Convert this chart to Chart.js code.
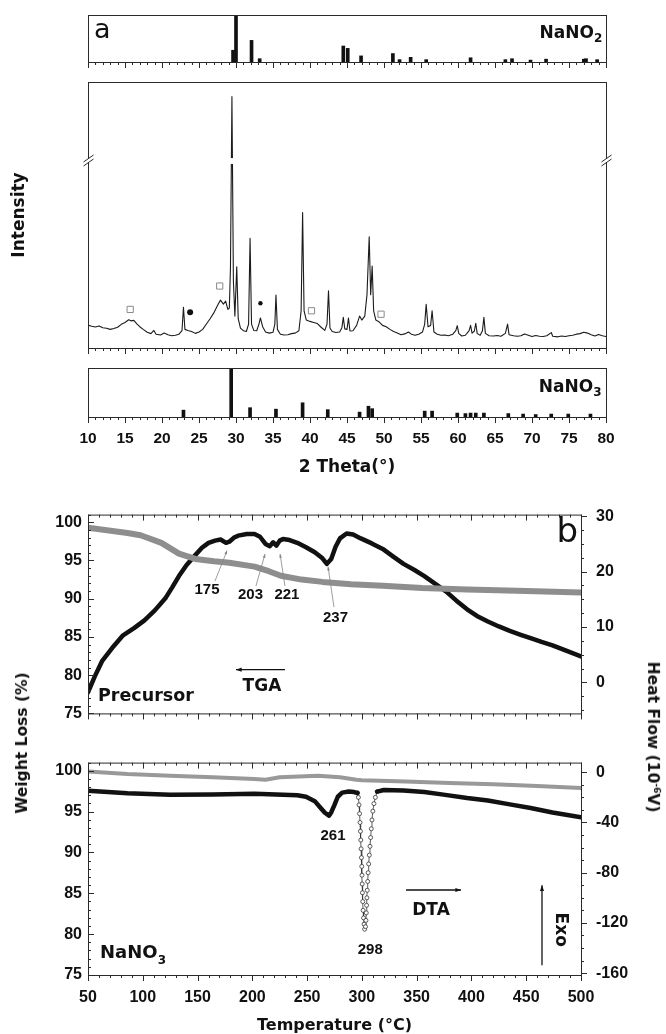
<!DOCTYPE html>
<html lang="en">
<head>
<meta charset="utf-8">
<title>XRD and TGA/DTA</title>
<script src="https://cdn.jsdelivr.net/npm/chart.js@4.4.1/dist/chart.umd.min.js"></script>
<style>
  body { margin: 0; background: #fff; }
  #figure { position: relative; width: 666px; height: 1034px; overflow: hidden; background: #fff; font-family: "DejaVu Sans", sans-serif; color: #111; }
  #figure canvas { position: absolute; left: 0; }
  .title-y { position: absolute; white-space: nowrap; font-weight: bold; font-size: 15.5px; transform: translate(-50%, -50%) rotate(-90deg); }
  .title-y.right { transform: translate(-50%, -50%) rotate(90deg); }
  .title-y sup { font-size: 9px; }
</style>
</head>
<body>
<div id="figure">
  <canvas id="nitrite" width="666" height="70" style="top:0"></canvas>
  <canvas id="pattern" width="666" height="290" style="top:70px"></canvas>
  <canvas id="nitrate" width="666" height="120" style="top:360px"></canvas>
  <canvas id="precursor" width="666" height="248" style="top:490px"></canvas>
  <canvas id="thermal" width="666" height="296" style="top:738px"></canvas>
  <div class="title-y" style="left:22px; top:743px">Weight Loss (%)</div>
  <div class="title-y right" style="left:653px; top:737px">Heat Flow (10<sup>-6</sup>V)</div>
</div>
<script>
const THETA_TICKS = [10, 15, 20, 25, 30, 35, 40, 45, 50, 55, 60, 65, 70, 75, 80];
const TEMP_TICKS = [50, 100, 150, 200, 250, 300, 350, 400, 450, 500];
const WEIGHT_TICKS = [75, 80, 85, 90, 95, 100];
const PRECURSOR_HEAT_TICKS = [0, 10, 20, 30];
const NITRATE_HEAT_TICKS = [-160, -120, -80, -40, 0];

// reference cards, relative intensity (%)
const NANO2_THETA = [29.6, 30.0, 32.1, 33.2, 44.5, 45.1, 46.9, 51.2, 52.1, 53.6, 55.7, 61.7, 66.4, 67.3, 69.8, 71.9, 77.0, 77.3, 78.8];
const NANO2_INT = [25, 100, 46, 7, 34, 29, 13, 18, 5, 10, 5, 9, 5, 7, 4, 6, 6, 7, 5];
const NANO3_THETA = [22.9, 29.35, 31.9, 35.4, 39.0, 42.4, 46.7, 47.9, 48.4, 55.5, 56.5, 59.9, 61.0, 61.7, 62.4, 63.5, 66.8, 68.8, 70.5, 72.6, 74.9, 77.9];
const NANO3_INT = [14, 100, 19, 16, 29, 15, 10, 22, 17, 12, 12, 8, 7, 8, 8, 8, 7, 6, 5, 6, 6, 6];

// measured pattern (intensity in % of the plotted box, axis broken near the top)
const XRD_THETA = [
  10.0, 10.5, 11.0, 11.5, 12.0, 12.5, 13.0, 13.5, 14.0, 14.5,
  15.0, 15.5, 15.8, 16.2, 16.6, 17.0, 17.5, 18.0, 18.5, 18.9,
  19.2, 19.8, 20.3, 20.8, 21.3, 21.8, 22.3, 22.7, 22.9, 23.1,
  23.5, 24.0, 24.5, 25.0, 25.5, 26.0, 26.5, 27.0, 27.5, 27.9,
  28.3, 28.6, 28.9, 29.1, 29.25, 29.45, 29.65, 29.85, 30.1, 30.3,
  30.6, 31.0, 31.4, 31.7, 31.9, 32.1, 32.4, 32.8, 33.1, 33.3,
  33.6, 34.0, 34.5, 35.0, 35.25, 35.4, 35.6, 36.0, 36.5, 37.0,
  37.5, 38.0, 38.5, 38.8, 39.0, 39.2, 39.5, 40.0, 40.5, 41.0,
  41.5, 42.0, 42.3, 42.5, 42.7, 43.0, 43.5, 44.0, 44.3, 44.5,
  44.7, 45.0, 45.2, 45.4, 45.8, 46.3, 46.7, 47.0, 47.4, 47.7,
  48.0, 48.2, 48.4, 48.6, 48.9, 49.3, 49.8, 50.3, 50.8, 51.3,
  51.8, 52.3, 52.8, 53.3, 53.7, 54.2, 54.7, 55.2, 55.5, 55.7,
  55.95, 56.3, 56.5, 56.75, 57.2, 57.7, 58.2, 58.7, 59.3, 59.7,
  59.9, 60.1, 60.5, 61.0, 61.5, 61.7, 61.9, 62.2, 62.4, 62.6,
  63.0, 63.3, 63.5, 63.7, 64.2, 64.8, 65.3, 65.8, 66.4, 66.7,
  66.9, 67.5, 68.0, 68.5, 69.0, 69.5, 70.0, 70.5, 71.0, 71.5,
  72.0, 72.6, 72.8, 73.5, 74.0, 74.5, 75.0, 75.5, 76.0, 76.5,
  77.0, 77.5, 78.0, 78.5, 79.0, 79.5, 80.0
];
const XRD_INT = [
  8.6, 8.2, 7.9, 8.3, 7.6, 7.4, 7.0, 7.3, 7.8, 8.9,
  9.6, 10.6, 10.2, 10.4, 9.1, 8.0, 6.9, 5.9, 5.4, 6.6,
  5.2, 4.9, 5.6, 5.0, 4.6, 4.8, 5.2, 6.5, 15.3, 7.0,
  6.6, 6.2, 5.5, 6.0, 7.0, 9.0, 11.0, 13.2, 16.0, 18.0,
  16.5, 17.6, 14.5, 15.0, 30, 94.5, 25, 12, 30.5, 11,
  7.5, 6.5, 6.2, 9, 41.2, 9, 6.6, 6.5, 9.0, 11.3,
  8.0, 6.0, 5.6, 5.9, 9, 19.9, 7, 5.2, 4.9, 5.0,
  5.4, 5.6, 6.5, 14, 50.9, 14, 10.5, 10.0, 9.6, 9.2,
  7.8, 6.6, 9, 21.5, 7.5, 6.2, 5.8, 6.0, 7.5, 11.5,
  7.2, 7.0, 11.3, 6.4, 6.5, 8.5, 12.0, 10.5, 12, 20,
  41.8, 20, 30.8, 14, 10.5, 9.9, 8.5, 8.0, 7.0, 6.2,
  5.6, 5.0, 5.3, 6.0, 5.2, 4.8, 5.2, 6.0, 9, 16.4,
  8, 8.5, 14.0, 6, 5.2, 4.8, 4.9, 4.6, 5.2, 6.5,
  8.4, 5.5, 4.5, 4.8, 6.5, 8.5, 5.6, 6.3, 9.3, 5.4,
  4.8, 6.5, 11.5, 5.5, 4.6, 4.5, 4.7, 4.4, 5.5, 9.0,
  5.0, 4.6, 4.4, 4.6, 5.3, 4.8, 4.3, 4.7, 4.4, 4.3,
  4.6, 5.8, 4.4, 4.2, 4.5, 4.3, 4.6, 4.8, 5.2, 5.4,
  5.9, 5.6, 5.0, 4.5, 5.1, 4.6, 4.3
];
const AXIS_BREAK = [69.2, 71.4];

// phase markers above the pattern
const SQUARE_THETA = [15.7, 27.8, 40.2, 49.6];
const SQUARE_INT = [14.5, 23.3, 14.0, 12.7];
const DOT_THETA = [23.8, 33.3];
const DOT_INT = [13.4, 16.8];

// precursor: TGA (weight %) and DTA (heat flow)
const PRE_TGA_TEMP = [50, 86, 98, 117, 133, 148, 165, 179, 202, 215, 226, 245, 264, 290, 319, 355, 396, 450, 500];
const PRE_TGA_WEIGHT = [99.3, 98.6, 98.3, 97.3, 95.9, 95.2, 94.9, 94.7, 94.2, 93.6, 93.0, 92.5, 92.2, 91.9, 91.7, 91.4, 91.2, 91.0, 90.8];
const PRE_DTA_TEMP = [
  50, 56, 63, 72, 82, 92, 101.5, 111, 121, 127,
  133, 140, 148, 154, 160, 166, 171, 176, 179, 183,
  187, 195, 202, 207, 212, 216, 219, 222, 225, 228,
  234, 241, 249, 257, 264, 268, 272, 276, 280, 286,
  292, 299, 309, 319, 328, 338, 348, 357, 367, 377,
  386, 396, 405, 415, 425, 435, 445, 454, 464, 474,
  487, 500
];
const PRE_DTA_HEAT = [
  -1.8, 1.0, 3.9, 6.2, 8.5, 9.8, 11.2, 13.0, 15.3, 17.2,
  19.2, 21.2, 23.0, 24.3, 25.2, 25.6, 25.8, 25.2, 25.4, 26.1,
  26.5, 26.8, 26.8, 26.3, 25.0, 24.6, 25.3, 24.7, 25.6, 25.9,
  25.7, 25.2, 24.4, 23.5, 22.4, 21.4, 22.3, 24.5, 26.0, 26.9,
  26.7, 26.0, 25.1, 24.1, 22.8, 21.4, 20.3, 19.2, 17.8, 16.4,
  14.8, 13.2, 12.0, 11.0, 10.1, 9.3, 8.6, 8.0, 7.3, 6.7,
  5.7, 4.7
];
const PRE_PEAKS = ['175', '203', '221', '237'];

// NaNO3: TGA and DTA, the melting dip is drawn with open circles
const NIT_TGA_TEMP = [50, 86, 125, 164, 202, 212, 225, 260, 280, 295, 300, 340, 380, 420, 460, 500];
const NIT_TGA_WEIGHT = [99.9, 99.6, 99.4, 99.2, 99.0, 98.9, 99.2, 99.4, 99.2, 98.9, 98.85, 98.7, 98.5, 98.35, 98.15, 97.9];
const NIT_DTA_TEMP = [50, 86, 125, 164, 202, 241, 249, 257, 262, 266, 270, 272, 275, 278, 282, 288, 293, 296];
const NIT_DTA_HEAT = [-14.8, -16.7, -18, -17.8, -17.1, -18.3, -19.5, -23, -28, -32, -34.6, -32, -26, -19.5, -16.2, -15.4, -15.8, -16.5];
const NIT_DTA_TEMP_AFTER = [314, 320, 338, 357, 376, 396, 415, 435, 454, 474, 500];
const NIT_DTA_HEAT_AFTER = [-15.4, -14.1, -14.5, -15.8, -18, -20.5, -22.5, -25.6, -28.5, -32, -35.9];
const NIT_DIP_TEMP = [
  296, 296.8, 297.4, 297.9, 298.3, 298.7, 299, 299.3, 299.6, 299.9,
  300.1, 300.3, 300.5, 300.8, 301.1, 301.5, 302, 302.5, 303.3, 303.7,
  304, 304.3, 304.6, 304.9, 305.3, 305.7, 306.2, 306.8, 307.4, 308,
  308.6, 309.2, 310, 311, 312.3, 314
];
const NIT_DIP_HEAT = [
  -16.5, -20, -26, -33, -40, -47, -54, -61, -68, -75,
  -82, -89, -96, -103, -110, -116, -121, -125, -123, -118,
  -112, -106, -100, -94, -87, -80, -73, -66, -59, -52,
  -45, -38, -31, -25, -20, -15.4
];
const NIT_PEAKS = ['261', '298'];

const FONT = '"DejaVu Sans", sans-serif';
const DIGITS = '"Liberation Sans", Arial, sans-serif';
Chart.defaults.font.family = FONT;
Chart.defaults.color = "#111";

function pontos(xs, ys) {
  return xs.map((x, i) => ({ x, y: ys[i] }));
}

function drawTicks(chart, t) {
  const { ctx, chartArea: area } = chart;
  const scale = chart.scales[t.scale];
  const count = Math.round((scale.max - t.first) / t.step);

  ctx.beginPath();
  for (let i = 0; i <= count; i++) {
    const value = t.first + i * t.step;
    if (value < scale.min - 1e-6 || value > scale.max + 1e-6) continue;

    const ratio = value / t.major;
    const len = Math.abs(ratio - Math.round(ratio)) < 1e-6 ? t.majorLen : t.len;
    const p = Math.round(scale.getPixelForValue(value)) + 0.5;

    if (t.edge === "top" || t.edge === "bottom") {
      const y = t.edge === "top" ? area.top : area.bottom;
      ctx.moveTo(p, y);
      ctx.lineTo(p, y + len * t.dir);
    } else {
      const x = t.edge === "left" ? area.left : area.right;
      ctx.moveTo(x, p);
      ctx.lineTo(x + len * t.dir, p);
    }
  }
  ctx.stroke();
}

function drawText(chart, item) {
  const { ctx } = chart;
  const x = chart.scales.x.getPixelForValue(item.x);
  const y = chart.scales[item.scale || "y"].getPixelForValue(item.y);

  ctx.save();
  ctx.fillStyle = "#111";
  ctx.font = item.font;

  if (item.rotate) {
    ctx.translate(x, y);
    ctx.rotate(item.rotate);
    ctx.textAlign = "center";
    ctx.textBaseline = "middle";
    ctx.fillText(item.text, 0, 0);
    ctx.restore();
    return;
  }

  const mainWidth = ctx.measureText(item.text).width;
  let subWidth = 0;
  if (item.sub) {
    ctx.font = item.subFont;
    subWidth = ctx.measureText(item.sub).width;
  }

  const total = mainWidth + subWidth;
  const left = item.align === "right" ? x - total : item.align === "center" ? x - total / 2 : x;

  ctx.textAlign = "left";
  ctx.textBaseline = "alphabetic";
  ctx.font = item.font;
  ctx.fillText(item.text, left, y);

  if (item.sub) {
    ctx.font = item.subFont;
    ctx.fillText(item.sub, left + mainWidth, y + item.subDrop);
  }
  ctx.restore();
}

function drawArrow(chart, a) {
  const { ctx } = chart;
  const sx = chart.scales.x;
  const sy = chart.scales[a.scale || "y"];
  const x1 = sx.getPixelForValue(a.x1), y1 = sy.getPixelForValue(a.y1);
  const x2 = sx.getPixelForValue(a.x2), y2 = sy.getPixelForValue(a.y2);
  const ang = Math.atan2(y2 - y1, x2 - x1);

  ctx.save();
  ctx.strokeStyle = a.color;
  ctx.fillStyle = a.color;
  ctx.lineWidth = a.width;
  ctx.beginPath();
  ctx.moveTo(x1, y1);
  ctx.lineTo(x2, y2);
  ctx.stroke();

  ctx.beginPath();
  ctx.moveTo(x2, y2);
  ctx.lineTo(x2 - a.head * Math.cos(ang - 0.35), y2 - a.head * Math.sin(ang - 0.35));
  ctx.lineTo(x2 - a.head * Math.cos(ang + 0.35), y2 - a.head * Math.sin(ang + 0.35));
  ctx.closePath();
  ctx.fill();
  ctx.restore();
}

const decor = {
  id: "decor",
  afterDatasetsDraw(chart, args, opts) {
    const { ctx, chartArea: area } = chart;
    ctx.save();

    let breakY = null;
    if (opts.band) {
      const s = chart.scales.y;
      const yTop = s.getPixelForValue(opts.band[1]);
      const yBottom = s.getPixelForValue(opts.band[0]);
      ctx.fillStyle = "#fff";
      ctx.fillRect(area.left + 1, yTop, area.width - 2, yBottom - yTop);
      breakY = (yTop + yBottom) / 2;
    }

    ctx.strokeStyle = "#2a2a2a";
    ctx.lineWidth = 1;
    ctx.strokeRect(area.left + 0.5, area.top + 0.5, area.width, area.height);

    (opts.ticks || []).forEach(t => drawTicks(chart, t));

    if (breakY !== null) {
      [area.left + 0.5, area.right + 0.5].forEach(x => {
        ctx.fillStyle = "#fff";
        ctx.fillRect(x - 3, breakY - 3, 6, 5);
        ctx.beginPath();
        ctx.moveTo(x - 5, breakY + 1);
        ctx.lineTo(x + 5, breakY - 6);
        ctx.moveTo(x - 5, breakY + 5);
        ctx.lineTo(x + 5, breakY - 2);
        ctx.stroke();
      });
    }

    ctx.restore();
    (opts.arrows || []).forEach(a => drawArrow(chart, a));
    (opts.texts || []).forEach(t => drawText(chart, t));
  }
};
Chart.register(decor);

function chartOptions(padding, scales, decorConfig) {
  return {
    responsive: false,
    animation: false,
    devicePixelRatio: 1,
    events: [],
    layout: { padding },
    scales,
    elements: {
      line: { tension: 0, borderJoinStyle: "round", borderCapStyle: "round" },
      point: { radius: 0 }
    },
    plugins: {
      legend: { display: false },
      tooltip: { enabled: false },
      decor: decorConfig
    }
  };
}

const thetaFont = { family: DIGITS, size: 15.5, weight: "bold" };
const tickFont = { family: DIGITS, size: 16, weight: "bold" };
const titleFont = { family: FONT, size: 16, weight: "bold", lineHeight: 1 };

const thetaMarks = { scale: "x", edge: "bottom", dir: 1, first: 10, step: 1, major: 5, len: 3, majorLen: 6 };
const tempTop = { scale: "x", edge: "top", dir: 1, first: 50, step: 10, major: 50, len: 3, majorLen: 6 };
const tempBottom = { scale: "x", edge: "bottom", dir: 1, first: 50, step: 10, major: 50, len: 3, majorLen: 6 };
const weightMarks = { scale: "y", edge: "left", dir: 1, first: 75, step: 1, major: 5, len: 3, majorLen: 6 };

function hiddenTheta() {
  return { type: "linear", min: 10, max: 80, display: false, offset: false };
}

function weightAxis() {
  return {
    type: "linear", position: "left", min: 75, max: 101,
    afterFit: s => { s.width = 88; },
    afterBuildTicks: s => { s.ticks = WEIGHT_TICKS.map(value => ({ value })); },
    grid: { display: false, drawTicks: false },
    border: { display: false },
    ticks: { padding: 6, font: tickFont, color: "#111" }
  };
}

function heatAxis(min, max, valores) {
  return {
    type: "linear", position: "right", min, max,
    afterFit: s => { s.width = 85; },
    afterBuildTicks: s => { s.ticks = valores.map(value => ({ value })); },
    grid: { display: false, drawTicks: false },
    border: { display: false },
    ticks: { padding: 15, font: tickFont, color: "#111" }
  };
}

const chemFont = `bold 17px ${FONT}`;
const chemSub = `bold 12px ${FONT}`;

// a: NaNO2 card
new Chart(document.getElementById("nitrite"), {
  type: "bar",
  data: { datasets: [{ data: pontos(NANO2_THETA, NANO2_INT), backgroundColor: "#111", barThickness: 3 }] },
  options: chartOptions(
    { left: 88, right: 60, top: 15, bottom: 8 },
    { x: hiddenTheta(), y: { min: 0, max: 100, display: false } },
    {
      ticks: [thetaMarks],
      texts: [
        { text: "a", x: 10.8, y: 51, font: `27px ${FONT}`, align: "left" },
        { text: "NaNO", sub: "2", x: 79.5, y: 51, font: chemFont, subFont: chemSub, subDrop: 4, align: "right" }
      ]
    }
  )
});

// a: measured pattern
new Chart(document.getElementById("pattern"), {
  type: "line",
  data: {
    datasets: [
      { data: pontos(XRD_THETA, XRD_INT), borderColor: "#1b1b1b", borderWidth: 1.1 },
      {
        data: pontos(SQUARE_THETA, SQUARE_INT), showLine: false, pointStyle: "rect",
        pointRadius: 4.4, pointBackgroundColor: "#fff", pointBorderColor: "#8a8a8a", pointBorderWidth: 1
      },
      {
        data: pontos(DOT_THETA, DOT_INT), showLine: false, pointStyle: "circle",
        pointRadius: [3, 2.2], pointBackgroundColor: "#111", pointBorderWidth: 0
      }
    ]
  },
  options: chartOptions(
    { left: 0, right: 60, top: 12, bottom: 12 },
    {
      x: hiddenTheta(),
      y: {
        type: "linear", min: 0, max: 100,
        afterFit: s => { s.width = 88; },
        grid: { display: false, drawTicks: false },
        border: { display: false },
        ticks: { display: false },
        title: { display: true, text: "Intensity", font: { family: FONT, size: 17, weight: "bold", lineHeight: 1 }, padding: { top: 11, bottom: 0 } }
      }
    },
    { band: AXIS_BREAK, ticks: [thetaMarks] }
  )
});

// a: NaNO3 card with the 2 theta axis
new Chart(document.getElementById("nitrate"), {
  type: "bar",
  data: { datasets: [{ data: pontos(NANO3_THETA, NANO3_INT), backgroundColor: "#111", barThickness: 3 }] },
  options: chartOptions(
    { left: 88, right: 60, top: 8, bottom: 0 },
    {
      x: {
        type: "linear", min: 10, max: 80, offset: false,
        afterFit: s => { s.height = 63; },
        afterBuildTicks: s => { s.ticks = THETA_TICKS.map(value => ({ value })); },
        grid: { display: false, drawTicks: false },
        border: { display: false },
        ticks: { padding: 12, font: thetaFont, color: "#111", autoSkip: false, maxRotation: 0 },
        title: { display: true, text: "2 Theta(°)", font: { ...titleFont, size: 17 }, padding: { top: 0, bottom: 4 } }
      },
      y: { min: 0, max: 100, display: false }
    },
    {
      ticks: [thetaMarks],
      texts: [{ text: "NaNO", sub: "3", x: 79.4, y: 51, font: chemFont, subFont: chemSub, subDrop: 4, align: "right" }]
    }
  )
});

// b: precursor
const peakLabel = `bold 15px ${DIGITS}`;
const peakArrow = { scale: "yR", color: "#858585", width: 0.8, head: 4 };

new Chart(document.getElementById("precursor"), {
  type: "line",
  data: {
    datasets: [
      { data: pontos(PRE_TGA_TEMP, PRE_TGA_WEIGHT), yAxisID: "y", borderColor: "#8e8e8e", borderWidth: 6 },
      { data: pontos(PRE_DTA_TEMP, PRE_DTA_HEAT), yAxisID: "yR", borderColor: "#111", borderWidth: 4.5 }
    ]
  },
  options: chartOptions(
    { left: 0, right: 0, top: 13, bottom: 13 },
    {
      x: { type: "linear", min: 50, max: 500, display: false },
      y: weightAxis(),
      yR: heatAxis(-5.6, 30.3, PRECURSOR_HEAT_TICKS)
    },
    {
      ticks: [tempTop, tempBottom, weightMarks,
        { scale: "yR", edge: "right", dir: 1, first: -5, step: 2.5, major: 10, len: 3, majorLen: 6 }],
      arrows: [
        { ...peakArrow, x1: 165.9, y1: 18.3, x2: 176.9, y2: 23.8 },
        { ...peakArrow, x1: 203.3, y1: 17.4, x2: 211.6, y2: 23.2 },
        { ...peakArrow, x1: 229.8, y1: 17.4, x2: 225.3, y2: 23.2 },
        { ...peakArrow, x1: 274.5, y1: 13.6, x2: 269.1, y2: 20.9 },
        { scale: "yR", color: "#111", width: 1.3, head: 6, x1: 229.8, y1: 2.3, x2: 185.1, y2: 2.3 }
      ],
      texts: [
        { text: PRE_PEAKS[0], x: 158.6, y: 15.9, scale: "yR", font: peakLabel, align: "center" },
        { text: PRE_PEAKS[1], x: 198.3, y: 15.1, scale: "yR", font: peakLabel, align: "center" },
        { text: PRE_PEAKS[2], x: 231.6, y: 15.1, scale: "yR", font: peakLabel, align: "center" },
        { text: PRE_PEAKS[3], x: 275.9, y: 10.9, scale: "yR", font: peakLabel, align: "center" },
        { text: "b", x: 497.3, y: 25.4, scale: "yR", font: `34px ${FONT}`, align: "right" },
        { text: "Precursor", x: 59.1, y: -3.4, scale: "yR", font: `bold 17.5px ${FONT}`, align: "left" },
        { text: "TGA", x: 208.8, y: -1.6, scale: "yR", font: `bold 17px ${FONT}`, align: "center" }
      ]
    }
  )
});

// b: NaNO3
new Chart(document.getElementById("thermal"), {
  type: "line",
  data: {
    datasets: [
      { data: pontos(NIT_TGA_TEMP, NIT_TGA_WEIGHT), yAxisID: "y", borderColor: "#999", borderWidth: 4 },
      { data: pontos(NIT_DTA_TEMP, NIT_DTA_HEAT), yAxisID: "yR", borderColor: "#111", borderWidth: 4.5 },
      { data: pontos(NIT_DTA_TEMP_AFTER, NIT_DTA_HEAT_AFTER), yAxisID: "yR", borderColor: "#111", borderWidth: 4.5 },
      {
        data: pontos(NIT_DIP_TEMP, NIT_DIP_HEAT), yAxisID: "yR", borderColor: "#333", borderWidth: 0.8,
        pointRadius: 2, pointBackgroundColor: "#fff", pointBorderColor: "#333", pointBorderWidth: 0.8
      }
    ]
  },
  options: chartOptions(
    { left: 0, right: 0, top: 17, bottom: 0 },
    {
      x: {
        type: "linear", min: 50, max: 500,
        afterFit: s => { s.height = 59; },
        afterBuildTicks: s => { s.ticks = TEMP_TICKS.map(value => ({ value })); },
        grid: { display: false, drawTicks: false },
        border: { display: false },
        ticks: { padding: 13, font: tickFont, color: "#111", autoSkip: false, maxRotation: 0 },
        title: { display: true, text: "Temperature (°C)", font: titleFont, padding: { top: 0, bottom: 0 } }
      },
      y: weightAxis(),
      yR: heatAxis(-161.5, 7.7, NITRATE_HEAT_TICKS)
    },
    {
      ticks: [tempTop, tempBottom, weightMarks,
        { scale: "yR", edge: "right", dir: 1, first: -160, step: 10, major: 40, len: 3, majorLen: 6 }],
      arrows: [
        { scale: "yR", color: "#111", width: 1.3, head: 6, x1: 340.3, y1: -93.8, x2: 390.5, y2: -93.8 },
        { scale: "yR", color: "#111", width: 1.3, head: 6, x1: 464.4, y1: -153.8, x2: 464.4, y2: -90 }
      ],
      texts: [
        { text: NIT_PEAKS[0], x: 273.6, y: -53.8, scale: "yR", font: peakLabel, align: "center" },
        { text: NIT_PEAKS[1], x: 307.6, y: -144.6, scale: "yR", font: peakLabel, align: "center" },
        { text: "DTA", x: 363.1, y: -113.8, scale: "yR", font: `bold 17px ${FONT}`, align: "center" },
        { text: "Exo", x: 480.8, y: -125.4, scale: "yR", font: `bold 17px ${FONT}`, rotate: Math.PI / 2 },
        { text: "NaNO", sub: "3", x: 61, y: -147.7, scale: "yR", font: `bold 18px ${FONT}`, subFont: `bold 12px ${FONT}`, subDrop: 6, align: "left" }
      ]
    }
  )
});
</script>
</body>
</html>
